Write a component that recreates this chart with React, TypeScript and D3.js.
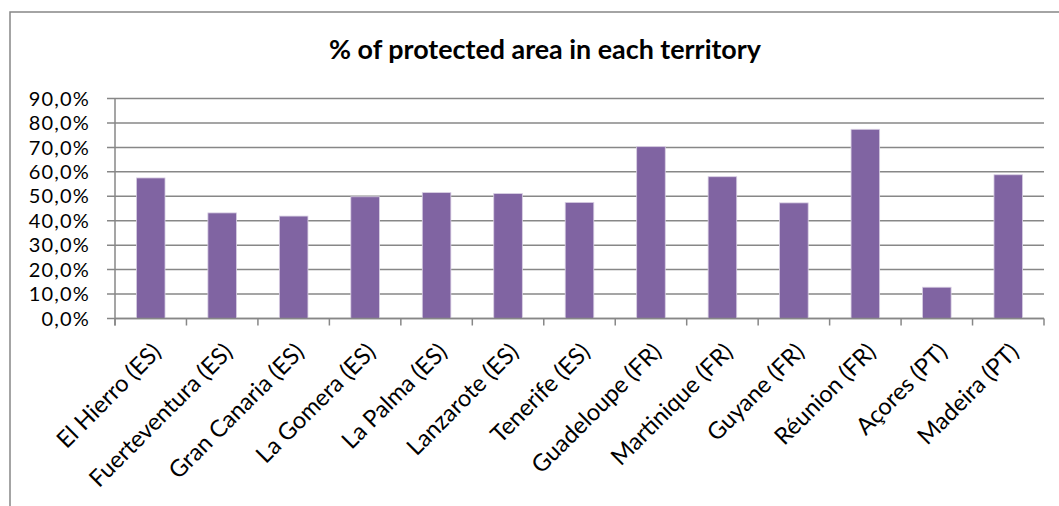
import React, { useEffect, useRef } from "react";
import * as d3 from "d3";

const categories = [
  "El Hierro (ES)",
  "Fuerteventura (ES)",
  "Gran Canaria (ES)",
  "La Gomera (ES)",
  "La Palma (ES)",
  "Lanzarote (ES)",
  "Tenerife (ES)",
  "Guadeloupe (FR)",
  "Martinique (FR)",
  "Guyane (FR)",
  "Réunion (FR)",
  "Açores (PT)",
  "Madeira (PT)",
];
const values = [0.575, 0.432, 0.419, 0.498, 0.515, 0.511, 0.475, 0.703, 0.58, 0.473, 0.774, 0.128, 0.588];
const yTicks = [0, 0.1, 0.2, 0.3, 0.4, 0.5, 0.6, 0.7, 0.8, 0.9];
const title = "% of protected area in each territory";

const W = 1059;
const H = 506;
const FONT = "Lato, 'Open Sans', sans-serif";

export default function App() {
  const ref = useRef<SVGSVGElement | null>(null);
  useEffect(() => {
    const svg = d3.select(ref.current);
    svg.selectAll("*").remove();
    const left = 115, right = 1044, top = 98.5, bottom = 318.5;
    const x = d3.scaleBand<string>().domain(categories).range([left, right]).paddingInner(0.6).paddingOuter(0.3);
    const y = d3.scaleLinear().domain([0, 0.9]).range([bottom, top]);
    const grid = "#878787";

    svg.append("rect").attr("x", 0).attr("y", 0).attr("width", W).attr("height", H).attr("fill", "#fff");
    svg.append("rect").attr("x", 10).attr("y", 12).attr("width", 1200).attr("height", 700)
      .attr("fill", "none").attr("stroke", grid).attr("stroke-width", 1.5);

    const t = svg.append("text").attr("x", 545).attr("y", 58.5).attr("text-anchor", "middle")
      .attr("font-family", FONT).attr("font-weight", "bold").attr("font-size", 20).attr("fill", "#000")
      .text(title);
    const tw = (t.node() as SVGTextElement).getComputedTextLength();
    t.attr("font-size", 20 * 432 / tw);

    // gridlines + y ticks
    const yg = svg.append("g");
    yTicks.forEach((v) => {
      yg.append("line").attr("x1", 107).attr("x2", right).attr("y1", y(v)).attr("y2", y(v))
        .attr("stroke", grid).attr("stroke-width", 1.5);
      yg.append("text").attr("x", 90).attr("y", y(v)).attr("dy", "0.36em").attr("text-anchor", "end")
        .attr("font-family", FONT).attr("font-size", 20).attr("letter-spacing", 1.2).attr("fill", "#000")
        .text(d3.format(".1%")(v).replace(".", ","));
    });
    // y axis line
    svg.append("line").attr("x1", left).attr("x2", left).attr("y1", top).attr("y2", bottom + 7)
      .attr("stroke", grid).attr("stroke-width", 1.5);

    // bars
    svg.append("g").selectAll("rect").data(values).join("rect")
      .attr("x", (_, i) => x(categories[i])!)
      .attr("width", x.bandwidth())
      .attr("y", (d) => y(d))
      .attr("height", (d) => bottom - y(d))
      .attr("fill", "#8064A2")
      .attr("stroke", "#d8cfe3").attr("stroke-width", 0.8);

    // x axis
    svg.append("line").attr("x1", left).attr("x2", right).attr("y1", bottom).attr("y2", bottom)
      .attr("stroke", grid).attr("stroke-width", 1.5);
    const step = x.step();
    for (let i = 0; i <= categories.length; i++) {
      const tx = left + i * step;
      svg.append("line").attr("x1", tx).attr("x2", tx).attr("y1", bottom).attr("y2", bottom + 7)
        .attr("stroke", grid).attr("stroke-width", 1.5);
    }
    // labels
    const lbl = svg.append("g");
    categories.forEach((c) => {
      const cx = x(c)! + x.bandwidth() / 2;
      lbl.append("text")
        .attr("transform", `translate(${cx + 6},${bottom + 29}) rotate(-45)`)
        .attr("text-anchor", "end").attr("dy", "0.35em")
        .attr("font-family", FONT).attr("font-size", 20).attr("fill", "#000")
        .text(c);
    });
    const first = lbl.select("text").node() as SVGTextElement;
    const fw = first.getComputedTextLength();
    lbl.selectAll("text").attr("font-size", 20 * 136 / fw);
  }, []);
  return (
    <svg ref={ref} width={W} height={H} style={{ position: "absolute", left: 0, top: 0, display: "block" }} />
  );
}
